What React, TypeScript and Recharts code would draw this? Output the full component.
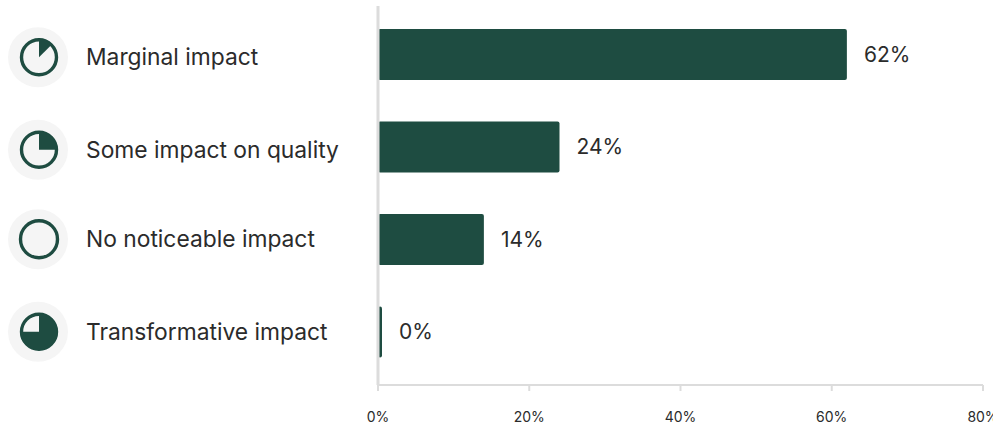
import React from "react";
import { BarChart, Bar, XAxis, YAxis, LabelList } from "recharts";

const categories = ["Marginal impact", "Some impact on quality", "No noticeable impact", "Transformative impact"];
const shares = [62, 24, 14, 0];
const iconFractions = [0.125, 0.25, 0, 0.75];
const iconNudge = [3, 3, 0, 0];
const xTicks = [0, 20, 40, 60, 80];

const rows = categories.map((name, i) => ({ name, share: shares[i] }));

const GREEN = "#1e4c41";
const AXIS = "#dcdcdc";
const INK = "#2b2b2b";
const FONT = "Inter, sans-serif";

// Wedge running clockwise from twelve o'clock, used for the small progress dial.
function wedgePath(cx: number, cy: number, r: number, fraction: number) {
  const a = fraction * 2 * Math.PI;
  const ex = cx + r * Math.sin(a);
  const ey = cy - r * Math.cos(a);
  const large = fraction > 0.5 ? 1 : 0;
  return `M${cx},${cy} L${cx},${cy - r} A${r},${r} 0 ${large} 1 ${ex},${ey} Z`;
}

function CategoryTick({ x, y, payload, index }: any) {
  const fraction = iconFractions[index] ?? 0;
  const cy = y + (iconNudge[index] ?? 0);
  const cx = x - 332;
  const ringR = fraction === 0 ? 18.5 : 17.5;
  return (
    <g>
      <circle cx={cx} cy={cy} r={30} fill="#f5f5f5" />
      <circle cx={cx + 1} cy={cy} r={ringR} fill="none" stroke={GREEN} strokeWidth={3.4} />
      {fraction > 0 && <path d={wedgePath(cx + 1, cy, 18.5, fraction)} fill={GREEN} />}
      <text x={x - 284} y={cy} dy="0.36em" fontFamily={FONT} fontSize={22.8} fill={INK}>
        {payload.value}
      </text>
    </g>
  );
}

export default function App() {
  return (
    <div style={{ position: "absolute", left: 0, top: 0, width: 993, height: 426, overflow: "hidden", background: "#fff" }}>
      <BarChart
        width={993}
        height={426}
        data={rows}
        layout="vertical"
        margin={{ top: 6, right: 10, bottom: 0, left: 0 }}
      >
        <XAxis
          type="number"
          domain={[0, 80]}
          ticks={xTicks}
          tickFormatter={(v: number) => `${v}%`}
          height={41}
          axisLine={{ stroke: AXIS, strokeWidth: 2 }}
          tickLine={{ stroke: AXIS, strokeWidth: 2 }}
          tickSize={6}
          tickMargin={21}
          interval={0}
          tick={{ fontFamily: FONT, fontSize: 14, fill: INK }}
        />
        <YAxis
          type="category"
          dataKey="name"
          width={378}
          padding={{ top: 2, bottom: 7 }}
          axisLine={{ stroke: AXIS, strokeWidth: 3 }}
          tickLine={false}
          interval={0}
          tick={<CategoryTick />}
        />
        <Bar dataKey="share" fill={GREEN} barSize={51} radius={2} minPointSize={4} isAnimationActive={false}>
          <LabelList
            dataKey="share"
            position="right"
            offset={17}
            formatter={(v: number) => `${v}%`}
            style={{ fontFamily: FONT, fontSize: 21, fill: INK }}
          />
        </Bar>
      </BarChart>
    </div>
  );
}
